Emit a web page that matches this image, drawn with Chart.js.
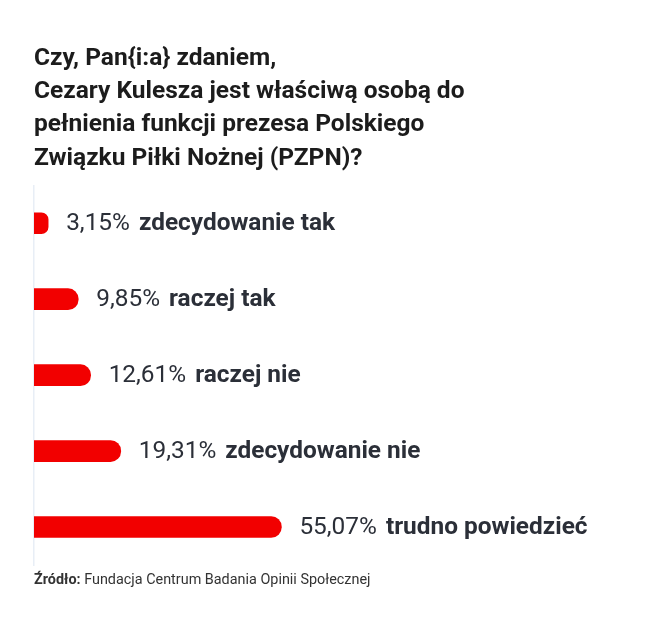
<!DOCTYPE html>
<html>
<head>
<meta charset="utf-8">
<script src="https://cdn.jsdelivr.net/npm/chart.js@4.4.1/dist/chart.umd.min.js"></script>
<style>
  html, body { margin: 0; padding: 0; background: #fff; }
  #wrap { width: 664px; height: 643px; position: relative; }
</style>
</head>
<body>
<div id="wrap"><canvas id="chart"></canvas></div>
<script>
// dane z sondażu
const kategorie = ['zdecydowanie tak', 'raczej tak', 'raczej nie', 'zdecydowanie nie', 'trudno powiedzieć'];
const wartosci = [3.15, 9.85, 12.61, 19.31, 55.07];
const tytul = [
    'Czy, Pan{i:a} zdaniem,',
    'Cezary Kulesza jest właściwą osobą do',
    'pełnienia funkcji prezesa Polskiego',
    'Związku Piłki Nożnej (PZPN)?'
];
const zrodloEtykieta = 'Źródło:';
const zrodloTekst = 'Fundacja Centrum Badania Opinii Społecznej';

const FONT = 'Roboto, "Noto Sans", sans-serif';
const TEXT_COLOR = '#2b2f38';

// etykiety przy słupkach: wartość + nazwa kategorii
const etykietyPlugin = {
    id: 'etykiety',
    afterDatasetsDraw(chart) {
        const ctx = chart.ctx;
        const meta = chart.getDatasetMeta(0);
        ctx.save();
        ctx.textBaseline = 'middle';
        ctx.fillStyle = TEXT_COLOR;
        meta.data.forEach((bar, i) => {
            const x = bar.x + 18;
            const y = bar.y + 1;
            const val = wartosci[i].toFixed(2).replace('.', ',') + '%';
            ctx.font = '400 24.4px ' + FONT;
            ctx.fillText(val, x, y);
            const w = ctx.measureText(val + ' ').width;
            ctx.font = '700 24.4px ' + FONT;
            ctx.fillText(kategorie[i], x + w + 3, y);
        });
        ctx.restore();
    }
};

// źródło pod wykresem
const zrodloPlugin = {
    id: 'zrodlo',
    afterDraw(chart) {
        const ctx = chart.ctx;
        const x = chart.chartArea.left;
        const y = 584;
        ctx.save();
        ctx.textBaseline = 'alphabetic';
        ctx.fillStyle = '#333333';
        ctx.font = '700 14.4px ' + FONT;
        ctx.fillText(zrodloEtykieta, x, y);
        const w = ctx.measureText(zrodloEtykieta + ' ').width;
        ctx.font = '400 14.4px ' + FONT;
        ctx.fillText(zrodloTekst, x + w, y);
        ctx.restore();
    }
};

const ctx = document.getElementById('chart').getContext('2d');
new Chart(ctx, {
    type: 'bar',
    data: {
        labels: kategorie,
        datasets: [{
            data: wartosci,
            backgroundColor: '#f20000',
            borderRadius: { topRight: 11, bottomRight: 11, topLeft: 0, bottomLeft: 0 },
            borderSkipped: false,
            barThickness: 21
        }]
    },
    options: {
        indexAxis: 'y',
        responsive: true,
        maintainAspectRatio: false,
        animation: false,
        layout: { padding: { left: 34, right: 46, top: 0, bottom: 78 } },
        scales: {
            x: {
                display: false,
                min: 0,
                max: 130
            },
            y: {
                display: true,
                grid: { display: false, drawTicks: false },
                ticks: { display: false },
                border: { display: true, color: '#e8eef6', width: 1.5 }
            }
        },
        plugins: {
            legend: { display: false },
            tooltip: { enabled: false },
            title: {
                display: true,
                text: tytul,
                align: 'start',
                color: '#1c1c1c',
                font: { family: FONT, size: 24.5, weight: '700', lineHeight: 1.36 },
                padding: { top: 42, bottom: 10 }
            }
        }
    },
    plugins: [etykietyPlugin, zrodloPlugin]
});
</script>
</body>
</html>
